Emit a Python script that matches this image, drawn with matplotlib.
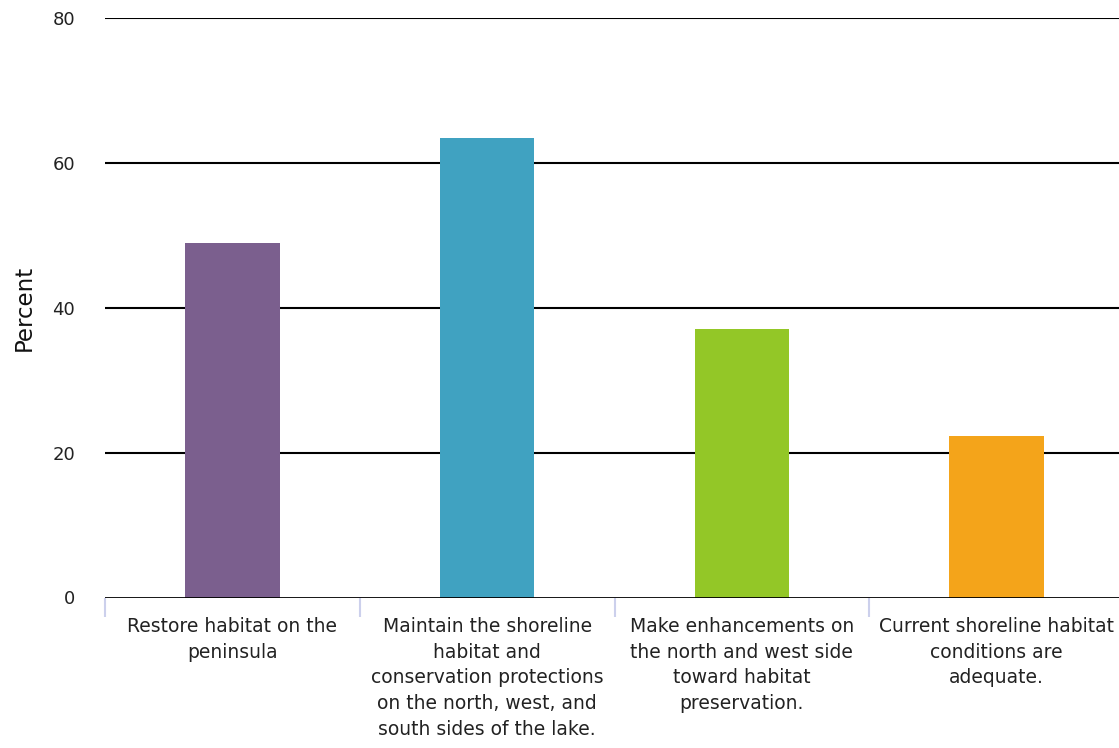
import matplotlib.pyplot as plt

# Survey results
categories = [
    'Restore habitat on the\npeninsula',
    'Maintain the shoreline\nhabitat and\nconservation protections\non the north, west, and\nsouth sides of the lake.',
    'Make enhancements on\nthe north and west side\ntoward habitat\npreservation.',
    'Current shoreline habitat\nconditions are\nadequate.',
]
percent = [49.0, 63.5, 37.1, 22.3]
colors = ['#7B5F8E', '#40A2C1', '#93C727', '#F4A41A']
yticks = [0, 20, 40, 60, 80]

plt.rcParams['font.family'] = ['DejaVu Sans']

fig = plt.figure(figsize=(11.19, 7.48), dpi=100)
# axes run a little past the right edge, like the original
ax = fig.add_axes([105 / 1119, 1 - 597.5 / 748, (1124 - 105) / 1119, 579.5 / 748])

x = list(range(len(categories)))
ax.bar(x, percent, width=0.37, color=colors, zorder=3)

ax.set_xlim(-0.5, 3.5)
ax.set_ylim(0, 80)
ax.set_yticks(yticks)
ax.set_yticklabels([str(t) for t in yticks], fontsize=13, color='#222222')
for t in yticks[1:]:
    ax.axhline(t, color='black', linewidth=1.5, zorder=1)
ax.axhline(0, color='black', linewidth=2, zorder=4)

ax.set_xticks(x)
ax.set_xticklabels(categories, fontsize=13.5, linespacing=1.45, color='#222222')
ax.tick_params(axis='x', length=0, pad=14)
ax.tick_params(axis='y', length=0, pad=21.5)
ax.set_xticks([-0.5, 0.5, 1.5, 2.5, 3.5], minor=True)
ax.tick_params(axis='x', which='minor', length=14, width=1.5, color='#CCD0EC')

for s in ax.spines.values():
    s.set_visible(False)

ax.set_ylabel('Percent', fontsize=16.5, labelpad=12, color='#111111')

plt.savefig('out.png', dpi=100)
